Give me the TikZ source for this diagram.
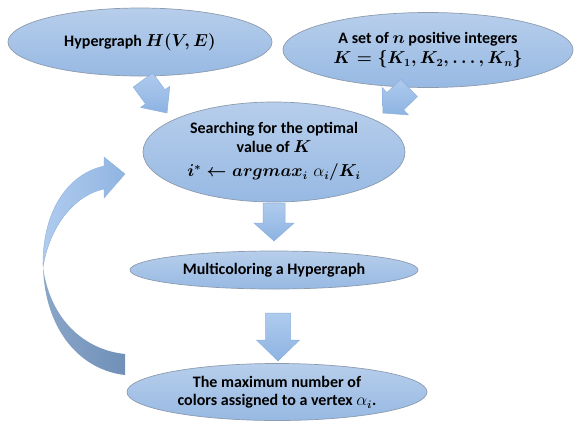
\documentclass[tikz,border=0pt]{standalone}
\usepackage{amsmath,bm}
\usepackage{fontspec}
\setmainfont{Carlito}
\usetikzlibrary{shapes.geometric,calc}
\definecolor{elltop}{HTML}{B7CEEB}
\definecolor{ellbot}{HTML}{97B9E3}
\definecolor{ellline}{HTML}{8C9BAE}
\definecolor{arrtop}{HTML}{AFCBEE}
\definecolor{arrbot}{HTML}{8DB3E2}
\definecolor{arrline}{HTML}{8DB0DC}
\definecolor{curvA}{HTML}{B0CCEE}
\definecolor{curvB}{HTML}{90B5E2}
\definecolor{darkA}{HTML}{8AA6C8}
\definecolor{darkB}{HTML}{7090B8}
\tikzset{
  ell/.style={ellipse, draw=ellline, line width=0.7pt, top color=elltop, bottom color=ellbot,
    inner sep=0pt, align=center, font=\bfseries\boldmath\fontsize{16}{19.5}\selectfont},
  blockarr/.style={draw=arrline, line width=0.5pt, top color=arrtop, bottom color=arrbot}
}
\newcommand\ualpha{\mbox{\unboldmath$\alpha$}}
% #1 start, #2 tip, #3 half shaft width, #4 half head width, #5 head length
\newcommand\blockarrow[5]{%
  \coordinate (#1#2b) at ($(#2)!#5!(#1)$);
  \path[blockarr] ($(#1)!#3!90:(#2)$) -- ($(#1#2b)!#3!90:(#2)$) -- ($(#1#2b)!#4!90:(#2)$)
    -- (#2) -- ($(#1#2b)!#4!-90:(#2)$) -- ($(#1#2b)!#3!-90:(#2)$) -- ($(#1)!#3!-90:(#2)$) -- cycle;
}
\begin{document}
\begin{tikzpicture}[x=1pt,y=-1pt]
\useasboundingbox (0,0) rectangle (578,424);
% ellipses
\node[ell, minimum width=264pt, minimum height=68pt] (hyp) at (140,42) {Hypergraph $H(V,E)$};
\node[ell, minimum width=290pt, minimum height=75pt] (set) at (428,50)
  {A set of $n$ positive integers\\[1pt] $K=\{K_1,K_2,\ldots,K_n\}$};
\node[ell, minimum width=262pt, minimum height=100pt] (search) at (274,152)
  {Searching for the optimal\\[-1pt] value of $K$\\[5pt] $i^{*}\leftarrow argmax_{i}\;\ualpha_{i}/K_{i}$};
\node[ell, minimum width=288pt, minimum height=38pt] (multi) at (274,270) {Multicoloring a Hypergraph};
\node[ell, minimum width=300pt, minimum height=57pt] (maxn) at (277,392)
  {The maximum number of\\[-1pt] colors assigned to a vertex $\ualpha_{i}$.};
% block arrows
\coordinate (a1s) at (143,80);  \coordinate (a1t) at (167,113);
\coordinate (a2s) at (409,88);  \coordinate (a2t) at (383,113);
\coordinate (a3s) at (274,203); \coordinate (a3t) at (274,241);
\coordinate (a4s) at (278,313); \coordinate (a4t) at (278,361);
\blockarrow{a1s}{a1t}{12pt}{18pt}{20pt}
\blockarrow{a2s}{a2t}{12pt}{19pt}{17pt}
\blockarrow{a3s}{a3t}{11pt}{20pt}{18pt}
\blockarrow{a4s}{a4t}{12.5pt}{21.5pt}{21pt}
% curved feedback arrow
\coordinate (cl) at (43,267);
\coordinate (ctip) at (125,174);
\path[left color=darkA, right color=darkB]
  (cl) .. controls (45,330) and (80,370) .. (125,375) -- (125,354)
  .. controls (85,350) and (50,320) .. (cl) -- cycle;
\path[left color=curvA, right color=curvB, draw=arrline, line width=0.4pt]
  (cl) .. controls (42,215) and (65,175) .. (104,166) -- (104,157) -- (ctip) -- (104,198) -- (104,189)
  .. controls (75,195) and (50,225) .. (cl) -- cycle;
\end{tikzpicture}
\end{document}
